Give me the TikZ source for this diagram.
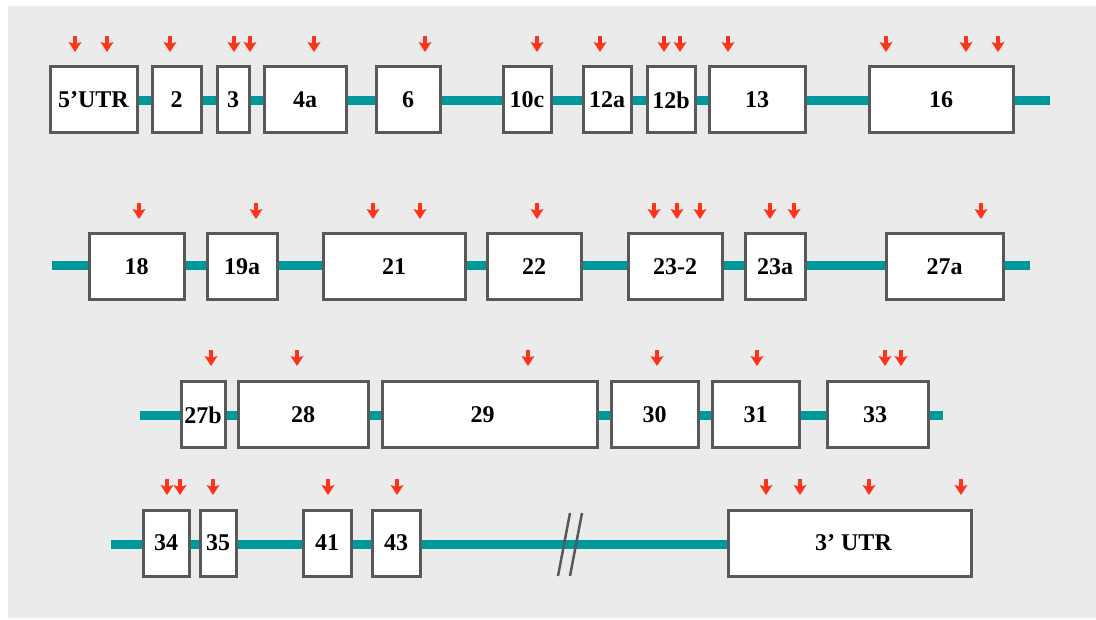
\documentclass[tikz,border=0pt]{standalone}
\usepackage{fontspec}
\setmainfont{Liberation Serif}
\definecolor{bgray}{HTML}{EBEBEB}
\definecolor{teal1}{HTML}{009999}
\definecolor{boxgray}{HTML}{595959}
\definecolor{mutred}{HTML}{FF3319}
\newcommand\ex[5]{\node[exon,minimum width={#3-#2}] (#1) at ({(#2+#3)/2},#4) {#5};}
\newcommand\mut[2]{%
  \fill[mutred] (#1,#2) -- ++(-6.5,-10) -- ++(6.5,2) -- ++(6.5,-2) -- cycle;
  \fill[mutred] ({#1-1.6},{#2-6}) rectangle ({#1+1.6},{#2-16});}
\tikzset{
  exon/.style={draw=boxgray, line width=3pt, fill=white, minimum height=66pt,
    inner sep=0pt, font=\bfseries\fontsize{24}{24}\selectfont},
  backbone/.style={teal1, line width=9pt},
  breakmark/.style={boxgray, line width=2.5pt}
}
\begin{document}
\begin{tikzpicture}[x=1pt,y=-1pt]
\useasboundingbox (0,0) rectangle (1096,620);
\fill[white] (0,0) rectangle (1096,620);
\fill[bgray] (8,6) rectangle (1096,618);
% row 1
\coordinate (r1s) at (137,101);
\coordinate (r1e) at (1050,101);
\draw[backbone] (r1s) -- (r1e);
\ex{utr5}{50}{137}{100}{5’UTR}
\ex{e2}{152}{201}{100}{2}
\ex{e3}{217}{249}{100}{3}
\ex{e4a}{264}{346}{100}{4a}
\ex{e6}{376}{440}{100}{6}
\ex{e10c}{503}{551}{100}{10c}
\ex{e12a}{583}{631}{100}{12a}
\ex{e12b}{647}{695}{100}{12b}
\ex{e13}{709}{805}{100}{13}
\ex{e16}{869}{1013}{100}{16}
\foreach \x in {75,107,170,234,250,314,425,537,600,664,680,728,886,966,998}{\mut{\x}{52}}
% row 2
\coordinate (r2s) at (52,266);
\coordinate (r2e) at (1030,266);
\draw[backbone] (r2s) -- (r2e);
\ex{e18}{89}{184}{267}{18}
\ex{e19a}{207}{277}{267}{19a}
\ex{e21}{323}{465}{267}{21}
\ex{e22}{487}{581}{267}{22}
\ex{e232}{628}{722}{267}{23-2}
\ex{e23a}{745}{805}{267}{23a}
\ex{e27a}{886}{1003}{267}{27a}
\foreach \x in {139,256,373,420,537,654,677,700,770,794,981}{\mut{\x}{219}}
% row 3
\coordinate (r3s) at (140,416);
\coordinate (r3e) at (943,416);
\draw[backbone] (r3s) -- (r3e);
\ex{e27b}{181}{225}{415}{27b}
\ex{e28}{238}{368}{415}{28}
\ex{e29}{382}{597}{415}{29\hspace*{14pt}}
\ex{e30}{611}{698}{415}{30}
\ex{e31}{712}{799}{415}{31}
\ex{e33}{827}{928}{415}{33\hspace*{5pt}}
\foreach \x in {211,297,528,657,757,885,901}{\mut{\x}{366}}
% row 4
\coordinate (r4s) at (111,544);
\coordinate (r4e) at (728,544);
\draw[backbone] (r4s) -- (r4e);
\ex{e34}{143}{189}{543}{34}
\ex{e35}{200}{236}{543}{35}
\ex{e41}{303}{351}{543}{41}
\ex{e43}{372}{420}{543}{43}
\ex{utr3}{728}{971}{543}{\hspace*{8pt}3’ UTR}
\coordinate (b1t) at (570,513);
\coordinate (b1b) at (558,576);
\coordinate (b2t) at (582,513);
\coordinate (b2b) at (570,576);
\draw[breakmark] (b1t) -- (b1b);
\draw[breakmark] (b2t) -- (b2b);
\foreach \x in {167,180,213,328,397,766,800,869,961}{\mut{\x}{495}}
\end{tikzpicture}
\end{document}
